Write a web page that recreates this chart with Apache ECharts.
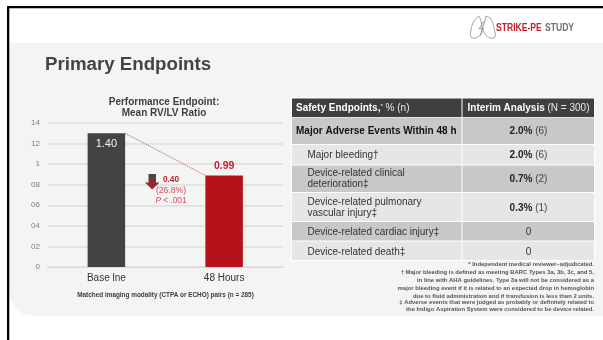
<!DOCTYPE html>
<html>
<head>
<meta charset="utf-8">
<style>html,body{margin:0;padding:0;background:#fff}#slide{width:603px;height:340px}</style>
<script src="https://cdn.jsdelivr.net/npm/echarts@6/dist/echarts.min.js"></script>
</head>
<body>
<div id="slide"></div>
<script>
// Mean RV/LV ratio at each timepoint
const categories = ['Base lne', '48 Hours'];
const ratioValues = [1.40, 0.99];
const barColors = ['#434343', '#b5121b'];

// Ruled scale shown at the left, one label per 0.2 step
const tickLabels = ['0', '02', '04', '06', '08', '1', '12', '14'];

const changeLines = ['0.40', '(26.8%)', 'P < .001'];

const safetyRows = [
  ['Major Adverse Events Within 48 h', '2.0%', '(6)'],
  ['Major bleeding†', '2.0%', '(6)'],
  ['Device-related clinical\ndeterioration‡', '0.7%', '(2)'],
  ['Device-related pulmonary\nvascular injury‡', '0.3%', '(1)'],
  ['Device-related cardiac injury‡', '', '0'],
  ['Device-related death‡', '', '0']
];

const footnotes = [
  '* Independent medical reviewer–adjudicated.',
  '† Major bleeding is defined as meeting BARC Types 3a, 3b, 3c, and 5,',
  'in line with AHA guidelines. Type 3a will not be considered as a',
  'major bleeding event if it is related to an expected drop in hemoglobin',
  'due to fluid administration and if transfusion is less than 2 units.',
  '‡ Adverse events that were judged as probably or definitely related to',
  'the Indigo Aspiration System were considered to be device related.'
];
const footnoteTops = [264, 272, 280, 288, 296, 302.5, 309.5];

const FONT = '"Liberation Sans", Arial, sans-serif';
const rowEdges = [[117.5, 144], [145, 164.5], [165.5, 192], [193, 221], [222, 240.5], [241.5, 260]];
const rowFills = ['#c8c8c8', '#e6e6e6', '#c8c8c8', '#e6e6e6', '#c8c8c8', '#e6e6e6'];
const rowTextShift = [0.5, 0.5, 0.3, 0.8, 1, 1.2];
const TABLE_SIZE = 10;

function txt(x, y, text, size, fill, opts) {
  return {
    type: 'text', z: 5,
    style: Object.assign({
      x, y, text, fill, fontFamily: FONT, fontSize: size,
      align: 'left', verticalAlign: 'middle'
    }, opts || {})
  };
}
function box(x, y, w, h, fill) {
  return { type: 'rect', z: 1, shape: { x, y, width: w, height: h }, style: { fill } };
}
function squeezed(x, y, text, fill) {
  return {
    type: 'text', z: 5, x, y, scaleX: 0.74,
    style: { x: 0, y: 0, text, fill, fontFamily: FONT, fontWeight: 'bold', fontSize: 11.6, align: 'left', verticalAlign: 'middle' }
  };
}

const shapes = [];

// Slide frame and panel
shapes.push(box(7, 6, 596, 2.3, '#000'));
shapes.push(box(7, 6, 2.3, 334, '#000'));
shapes.push({ type: 'rect', z: 0, shape: { x: 9.5, y: 43, width: 594, height: 273, r: [0, 0, 0, 24] }, style: { fill: '#f4f4f2' } });

// Heading
shapes.push(txt(45, 64.8, 'Primary Endpoints', 18.7, '#444', { fontWeight: 'bold' }));

// Study logo: lung outline and wordmark
const lungOutlines = [
  [[479, 16], [474, 21], [471, 30], [471, 37], [475, 38], [481, 34], [482, 28], [481, 21], [479, 16]],
  [[486, 16], [491, 19], [494, 28], [495, 37], [490, 38], [485, 34], [483, 28], [485, 21], [486, 16]]
];
lungOutlines.forEach(points => shapes.push({
  type: 'polyline', z: 5, shape: { points, smooth: 0.4 },
  style: { fill: 'none', stroke: '#8d8d8d', lineWidth: 0.8 }
}));
shapes.push({
  type: 'polyline', z: 5, shape: { points: [[484, 21], [479, 29], [483, 28], [480, 36]] },
  style: { fill: 'none', stroke: '#8d8d8d', lineWidth: 0.8 }
});
shapes.push(squeezed(496, 28, 'STRIKE-PE', '#c0202c'));
shapes.push(squeezed(545, 28, 'STUDY', '#6f6f6f'));

// Chart heading and caption
shapes.push(txt(164, 102, 'Performance Endpoint:', 10, '#404040', { fontWeight: 'bold', align: 'center' }));
shapes.push(txt(164, 113.5, 'Mean RV/LV Ratio', 10, '#404040', { fontWeight: 'bold', align: 'center' }));
shapes.push(txt(165.5, 295, 'Matched imaging modality (CTPA or ECHO) pairs (n = 285)', 6.4, '#3c3c3c', { fontWeight: 'bold', align: 'center' }));

// Change annotation
shapes.push({
  type: 'polygon', z: 5,
  shape: { points: [[148.5, 174], [156, 174], [156, 182.5], [159.5, 182.5], [152.2, 189.5], [145, 182.5], [148.5, 182.5]] },
  style: { fill: new echarts.graphic.LinearGradient(0, 0, 0, 1, [{ offset: 0, color: '#464646' }, { offset: 1, color: '#c01a22' }]) }
});
shapes.push(txt(171, 179.3, changeLines[0], 8.3, '#c4202c', { fontWeight: 'bold', align: 'center' }));
shapes.push(txt(171, 190.3, changeLines[1], 8.6, '#d34c5a', { align: 'center' }));
shapes.push({
  type: 'text', z: 5,
  style: {
    x: 171, y: 201, align: 'center', verticalAlign: 'middle',
    text: '{i|P}{n| < .001}',
    rich: {
      i: { fontFamily: FONT, fontSize: 8.3, fontStyle: 'italic', fill: '#d34c5a' },
      n: { fontFamily: FONT, fontSize: 8.3, fill: '#d34c5a' }
    }
  }
});

// Safety table
const X0 = 292, X1 = 462, X2 = 594;
shapes.push(box(X0 - 1, 97.5, X2 - X0 + 2, 163.5, '#ffffff'));
shapes.push(box(X0, 98.5, X1 - X0 - 0.5, 18.5, '#3f3f3f'));
shapes.push(box(X1 + 0.5, 98.5, X2 - X1 - 0.5, 18.5, '#3f3f3f'));
shapes.push({
  type: 'text', z: 5,
  style: {
    x: X0 + 4, y: 108.5, verticalAlign: 'middle',
    text: '{b|Safety Endpoints,}{s|*}{n| % (n)}',
    rich: {
      b: { fontFamily: FONT, fontSize: TABLE_SIZE, fontWeight: 'bold', fill: '#fff' },
      s: { fontFamily: FONT, fontSize: 6, fill: '#fff', verticalAlign: 'top' },
      n: { fontFamily: FONT, fontSize: TABLE_SIZE, fill: '#e8e8e8' }
    }
  }
});
shapes.push({
  type: 'text', z: 5,
  style: {
    x: (X1 + X2) / 2 + 0.5, y: 108.5, align: 'center', verticalAlign: 'middle',
    text: '{b|Interim Analysis}{n| (N = 300)}',
    rich: {
      b: { fontFamily: FONT, fontSize: TABLE_SIZE, fontWeight: 'bold', fill: '#fff' },
      n: { fontFamily: FONT, fontSize: TABLE_SIZE, fill: '#e8e8e8' }
    }
  }
});
safetyRows.forEach((row, i) => {
  const [top, bottom] = rowEdges[i];
  shapes.push(box(X0, top, X1 - X0 - 0.5, bottom - top, rowFills[i]));
  shapes.push(box(X1 + 0.5, top, X2 - X1 - 0.5, bottom - top, rowFills[i]));
  const mid = (top + bottom) / 2 + rowTextShift[i];
  if (i === 0) {
    shapes.push(txt(X0 + 4, mid, row[0], TABLE_SIZE, '#111', { fontWeight: 'bold' }));
  } else {
    shapes.push(txt(X0 + 15.5, mid, row[0], TABLE_SIZE, '#333', { lineHeight: 11 }));
  }
  const cx = (X1 + X2) / 2 + 0.5;
  if (row[1]) {
    shapes.push({
      type: 'text', z: 5,
      style: {
        x: cx, y: mid, align: 'center', verticalAlign: 'middle',
        text: '{b|' + row[1] + '}{n| ' + row[2] + '}',
        rich: {
          b: { fontFamily: FONT, fontSize: TABLE_SIZE, fontWeight: 'bold', fill: '#222' },
          n: { fontFamily: FONT, fontSize: TABLE_SIZE, fill: '#444' }
        }
      }
    });
  } else {
    shapes.push(txt(cx, mid, row[2], TABLE_SIZE, '#333', { align: 'center' }));
  }
});

// Footnotes
footnotes.forEach((line, i) => {
  shapes.push(txt(594, footnoteTops[i], line, 5.9, '#555', { align: 'right', fontWeight: 'bold' }));
});

const chart = echarts.init(document.getElementById('slide'), null, { renderer: 'canvas', width: 603, height: 340 });
chart.setOption({
  animation: false,
  backgroundColor: '#ffffff',
  graphic: { elements: shapes },
  grid: { left: 47.5, right: 320, top: 123, bottom: 73 },
  xAxis: {
    type: 'category',
    data: categories,
    axisTick: { show: false },
    axisLine: { lineStyle: { color: '#d9d9d9', width: 1.2 } },
    axisLabel: { color: '#333', fontFamily: FONT, fontSize: 10, margin: 6 }
  },
  yAxis: [
    {
      // Visible rule: 0 to 1.4 in 0.2 steps
      type: 'value',
      min: 0,
      max: 1.4,
      interval: 0.2,
      axisLine: { show: false },
      axisTick: { show: false },
      axisLabel: {
        color: '#7f7f7f', fontFamily: FONT, fontSize: 8, margin: 7.5,
        formatter: v => tickLabels[Math.round(v / 0.2)]
      },
      splitLine: { lineStyle: { color: '#dedede', width: 1.5 } }
    },
    {
      // Bar scale: same span as the rule, with bars rising from 0.10
      type: 'value',
      min: 0.1,
      max: 1.5,
      show: false,
      splitLine: { show: false }
    }
  ],
  series: [
    {
      type: 'bar',
      yAxisIndex: 1,
      barWidth: 37.5,
      z: 3,
      data: ratioValues.map((v, i) => ({
        value: v,
        itemStyle: { color: barColors[i] },
        label: i === 0
          ? { show: true, position: 'insideTop', distance: 5, color: '#f2f2f2', fontSize: 11, fontFamily: FONT, formatter: p => p.value.toFixed(2) }
          : { show: true, position: 'top', distance: 4, color: '#c4202c', fontSize: 10.5, fontWeight: 'bold', fontFamily: FONT, formatter: p => p.value.toFixed(2) }
      }))
    },
    {
      // Dotted connector between the two bar tops
      type: 'custom',
      yAxisIndex: 1,
      z: 4,
      silent: true,
      data: [[0, ratioValues[0], 1, ratioValues[1]]],
      renderItem: (params, api) => {
        const half = 37.5 / 2;
        const a = api.coord([api.value(0), api.value(1)]);
        const b = api.coord([api.value(2), api.value(3)]);
        return {
          type: 'line',
          shape: { x1: a[0] + half, y1: a[1], x2: b[0] - half, y2: b[1] },
          style: {
            stroke: new echarts.graphic.LinearGradient(0, 0, 1, 0, [{ offset: 0, color: '#444' }, { offset: 1, color: '#c4202c' }]),
            lineWidth: 0.8, lineDash: [1, 1]
          }
        };
      }
    }
  ]
});
</script>
</body>
</html>
